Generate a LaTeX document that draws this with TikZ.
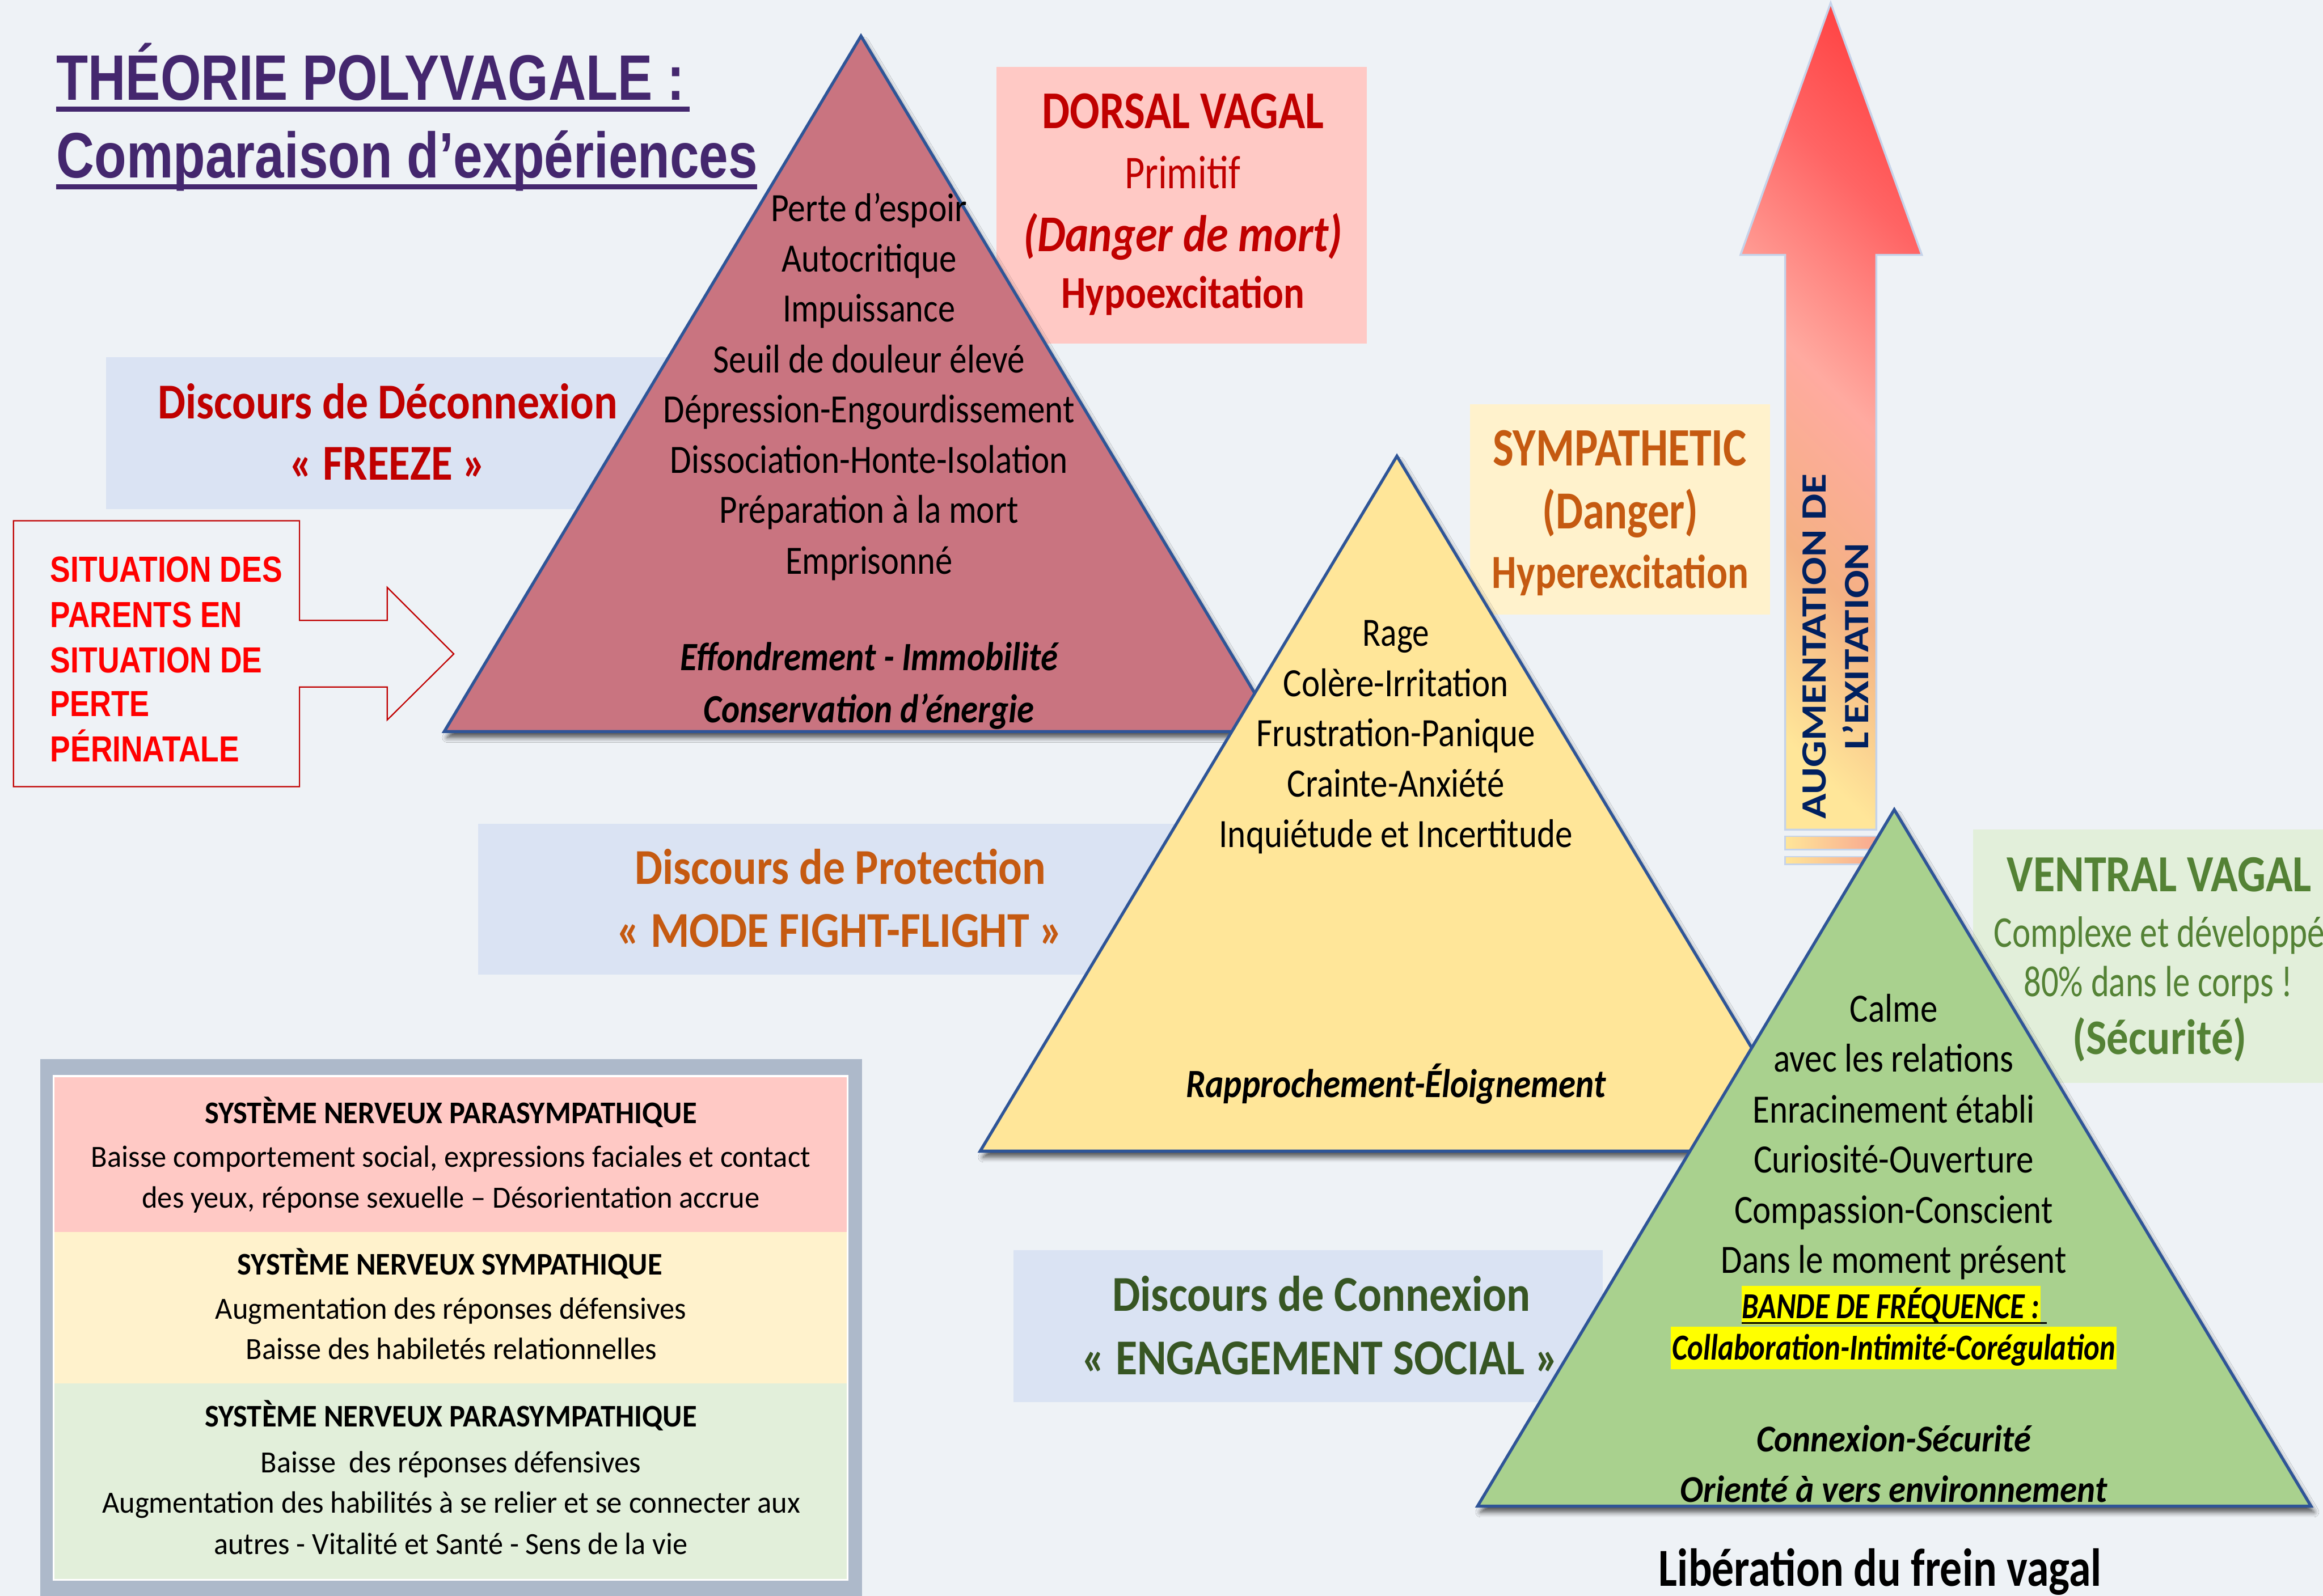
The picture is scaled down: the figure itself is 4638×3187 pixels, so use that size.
\documentclass[tikz,border=0pt]{standalone}
\usepackage{fontspec}
\usepackage{graphicx}
\setmainfont{Carlito}
\newfontfamily\arialf{Liberation Sans}
\usetikzlibrary{shadows.blur}
\newdimen\pxu \pxu=0.01cm
\newcommand{\W}[2]{\resizebox{#1\pxu}{\height}{#2}}
\newcommand{\fsz}[1]{\fontsize{#1}{#1}\selectfont}
\definecolor{bg}{HTML}{EEF2F6}
\definecolor{ttl}{HTML}{44276E}
\definecolor{triblue}{HTML}{2F5597}
\definecolor{redtri}{HTML}{C97480}
\definecolor{yeltri}{HTML}{FFE699}
\definecolor{grntri}{HTML}{A9D18E}
\definecolor{bluebox}{HTML}{DAE3F3}
\definecolor{pinkbox}{HTML}{FFC9C5}
\definecolor{yelbox}{HTML}{FFF2CC}
\definecolor{grnbox}{HTML}{E2EFDA}
\definecolor{dred}{HTML}{C00000}
\definecolor{oran}{HTML}{C55A11}
\definecolor{dgrn}{HTML}{375623}
\definecolor{vgrn}{HTML}{548235}
\definecolor{navy}{HTML}{002060}
\definecolor{brightred}{HTML}{FF0000}
\definecolor{leggray}{HTML}{ADB9CA}
\definecolor{arrline}{HTML}{C5D3EA}
\definecolor{ayel}{HTML}{FFE699}
\definecolor{aora}{HTML}{F4B183}
\definecolor{asal}{HTML}{F8A890}
\definecolor{apink}{HTML}{FFAAA0}
\definecolor{ared1}{HTML}{FF6464}
\definecolor{ared2}{HTML}{FF3030}
\definecolor{hl}{HTML}{FFFF00}
\pgfdeclareverticalshading{arrsh}{100bp}{color(0bp)=(ayel); color(24bp)=(ayel); color(38bp)=(aora); color(52bp)=(apink); color(68bp)=(ared1); color(86bp)=(ared2); color(100bp)=(ared2)}
\begin{document}
\begin{tikzpicture}[x=0.01cm,y=-0.01cm,
  lbl/.style={anchor=base, inner sep=0pt},
  body/.style={lbl, font=\fsz{22.8}},
  bodyit/.style={lbl, font=\fsz{22.8}\bfseries\itshape},
  tri/.style={draw=triblue, line width=0.06cm, line join=miter,
    blur shadow={shadow xshift=0.06cm, shadow yshift=-0.12cm, shadow blur radius=0.1cm, shadow opacity=65}},
  disc/.style={lbl, font=\fsz{28.5}\bfseries},
  legh/.style={lbl, font=\fsz{17.9}\bfseries},
  legb/.style={lbl, font=\fsz{17.5}},
  sit/.style={inner sep=0pt, anchor=base west, text=brightred, font=\arialf\bfseries\fsz{20.6}},
  aug/.style={inner sep=0pt, anchor=base, rotate=90, text=navy, font=\fsz{20.2}\bfseries},
  stripe/.style={left color=ayel, right color=asal, draw=arrline, line width=0.03cm}
]
\useasboundingbox (0,0) rectangle (4638,3187);
\fill[bg] (0,0) rectangle (4638,3187);

% ---- title
\node[inner sep=0pt, anchor=base west, text=ttl, font=\arialf\bfseries\fsz{36.5}] (title1) at (112,200) {\W{1254}{THÉORIE POLYVAGALE :}};
\node[inner sep=0pt, anchor=base west, text=ttl, font=\arialf\bfseries\fsz{36.5}] (title2) at (112,355) {\W{1400}{Comparaison d’expériences}};
\draw[ttl, line width=0.10cm] (112,218) -- (1377,218);
\draw[ttl, line width=0.10cm] (112,373) -- (1512,373);

% ---- background boxes
\fill[bluebox] (212,713) rectangle (1400,1017);
\fill[bluebox] (955,1645) rectangle (2400,1946);
\fill[bluebox] (2023,2497) rectangle (3200,2800);
\fill[pinkbox] (1990,134) rectangle (2729,686);
\fill[yelbox] (2935,807) rectangle (3534,1227);
\fill[grnbox] (3939,1657) rectangle (4650,2163);

\node[disc, text=dred] (dec1) at (774,836) {\W{918}{Discours de Déconnexion}};
\node[disc, text=dred] (dec2) at (774,958) {\W{393}{« FREEZE »}};
\node[disc, text=oran] (pro1) at (1678,1766) {\W{821}{Discours de Protection}};
\node[disc, text=oran] (pro2) at (1677,1892) {\W{892}{« MODE FIGHT-FLIGHT »}};
\node[disc, text=dgrn] (con1) at (2638,2619) {\W{835}{Discours de Connexion}};
\node[disc, text=dgrn] (con2) at (2636,2745) {\W{953}{« ENGAGEMENT SOCIAL »}};

\node[lbl, text=dred, font=\fsz{30.2}\bfseries] (dv1) at (2362,257) {\W{562}{DORSAL VAGAL}};
\node[lbl, text=dred, font=\fsz{26.7}] (dv2) at (2361,377) {\W{231}{Primitif}};
\node[lbl, text=dred, font=\fsz{29.3}\bfseries\itshape] (dv3) at (2362,502) {\W{637}{(Danger de mort)}};
\node[lbl, text=dred, font=\fsz{25.9}\bfseries] (dv4) at (2362,615) {\W{486}{Hypoexcitation}};

\node[lbl, text=oran, font=\fsz{30.7}\bfseries] (sy1) at (3234,930) {\W{507}{SYMPATHETIC}};
\node[lbl, text=oran, font=\fsz{30.4}\bfseries] (sy2) at (3235,1056) {\W{312}{(Danger)}};
\node[lbl, text=oran, font=\fsz{27}\bfseries] (sy3) at (3235,1175) {\W{512}{Hyperexcitation}};

\node[lbl, text=vgrn, font=\fsz{29.6}\bfseries] (vv1) at (4311,1780) {\W{608}{VENTRAL VAGAL}};
\node[lbl, text=vgrn, font=\fsz{25}] (vv2) at (4311,1891) {\W{660}{Complexe et développé}};
\node[lbl, text=vgrn, font=\fsz{24.8}] (vv3) at (4309,1990) {\W{537}{80\% dans le corps !}};
\node[lbl, text=vgrn, font=\fsz{28.2}\bfseries] (vv4) at (4312,2106) {\W{348}{(Sécurité)}};

% ---- big arrow
\shadedraw[shading=arrsh, shading angle=-45, draw=arrline, line width=0.04cm, line join=miter]
  (3655,6) -- (3837,509) -- (3746,509) -- (3746,1657) -- (3564,1657) -- (3564,509) -- (3475,509) -- cycle;
\shadedraw[stripe] (3564,1670) rectangle (3746,1697);
\shadedraw[stripe] (3564,1711) rectangle (3746,1726);
\node[aug] (aug1) at (3646,1291) {\W{689}{AUGMENTATION DE}};
\node[aug] (aug2) at (3730,1291) {\W{413}{L’EXITATION}};

% ---- red triangle
\filldraw[tri, fill=redtri] (1719,72) -- (2551,1461) -- (887,1461) -- cycle;
\foreach \y/\w/\t [count=\i] in {442/392/{Perte d'espoir},543/349/{Autocritique},643/344/{Impuissance},744/622/{Seuil de douleur élevé},844/821/{Dépression-Engourdissement},945/794/{Dissociation-Honte-Isolation},1045/597/{Préparation à la mort},1146/333/{Emprisonné}}
  \node[body] (red\i) at (1735,\y) {\W{\w}{\t}};
\node[bodyit] (redA) at (1735,1339) {\W{754}{Effondrement - Immobilité}};
\node[bodyit] (redB) at (1735,1443) {\W{660}{Conservation d'énergie}};

% ---- yellow triangle
\filldraw[tri, fill=yeltri] (2789,911) -- (3621,2299) -- (1957,2299) -- cycle;
\foreach \y/\w/\t [count=\i] in {1290/133/{Rage},1391/450/{Colère-Irritation},1491/556/{Frustration-Panique},1592/434/{Crainte-Anxiété},1692/706/{Inquiétude et Incertitude}}
  \node[body] (yel\i) at (2787,\y) {\W{\w}{\t}};
\node[bodyit] (yelA) at (2787,2192) {\W{838}{Rapprochement-Éloignement}};

% ---- green triangle
\filldraw[tri, fill=grntri] (3782,1617) -- (4614,3008) -- (2950,3008) -- cycle;
\foreach \y/\w/\t [count=\i] in {2041/175/{Calme},2141/479/{avec les relations},2242/563/{Enracinement établi},2342/559/{Curiosité-Ouverture},2443/636/{Compassion-Conscient},2543/690/{Dans le moment présent}}
  \node[body] (grn\i) at (3781,\y) {\W{\w}{\t}};
\fill[hl] (3477,2568) rectangle (4074,2645);
\fill[hl] (3336,2650) rectangle (4226,2734);
\node[lbl, font=\fsz{20.8}\bfseries\itshape] (band) at (3775,2633) {\W{594}{BANDE DE FRÉQUENCE :}};
\draw[black, line width=0.04cm] (3477,2642) -- (4086,2642);
\node[lbl, font=\fsz{20.8}\bfseries\itshape] (collab) at (3781,2716) {\W{885}{Collaboration-Intimité-Corégulation}};
\node[bodyit, font=\fsz{21.5}\bfseries\itshape] (grnA) at (3781,2899) {\W{548}{Connexion-Sécurité}};
\node[bodyit, font=\fsz{21.5}\bfseries\itshape] (grnB) at (3781,3000) {\W{852}{Orienté à vers environnement}};

\node[lbl, font=\fsz{30.4}\bfseries] (lib) at (3754,3168) {\W{884}{Libération du frein vagal}};

% ---- callout arrow box
\draw[dred, line width=0.025cm, line join=miter]
  (27,1040) -- (598,1040) -- (598,1239) -- (773,1239) -- (773,1173) -- (906,1306)
  -- (773,1438) -- (773,1372) -- (598,1372) -- (598,1571) -- (27,1571) -- cycle;
\node[sit] (sit1) at (100,1162) {\W{463}{SITUATION DES}};
\node[sit] (sit2) at (100,1253) {\W{383}{PARENTS EN}};
\node[sit] (sit3) at (100,1343) {\W{423}{SITUATION DE}};
\node[sit] (sit4) at (100,1431) {\W{198}{PERTE}};
\node[sit] (sit5) at (100,1521) {\W{377}{PÉRINATALE}};

% ---- legend
\fill[leggray] (80,2115) rectangle (1721,3200);
\fill[white] (105,2147) rectangle (1694,3157);
\fill[pinkbox] (109,2151) rectangle (1690,2461);
\fill[yelbox] (109,2461) rectangle (1690,2763);
\fill[grnbox] (109,2763) rectangle (1690,3153);
\node[legh] (lg1) at (900,2244) {\W{982}{SYSTÈME NERVEUX PARASYMPATHIQUE}};
\node[legb] (lg2) at (900,2331) {\W{1436}{Baisse comportement social, expressions faciales et contact}};
\node[legb] (lg3) at (900,2412) {\W{1233}{des yeux, réponse sexuelle – Désorientation accrue}};
\node[legh] (lg4) at (898,2546) {\W{848}{SYSTÈME NERVEUX SYMPATHIQUE}};
\node[legb] (lg5) at (900,2634) {\W{940}{Augmentation des réponses défensives}};
\node[legb] (lg6) at (901,2715) {\W{820}{Baisse des habiletés relationnelles}};
\node[legh] (lg7) at (900,2850) {\W{982}{SYSTÈME NERVEUX PARASYMPATHIQUE}};
\node[legb] (lg8) at (900,2941) {\W{759}{Baisse~ des réponses défensives}};
\node[legb] (lg9) at (901,3022) {\W{1394}{Augmentation des habilités à se relier et se connecter aux}};
\node[legb] (lg10) at (900,3104) {\W{946}{autres - Vitalité et Santé - Sens de la vie}};
\end{tikzpicture}
\end{document}
